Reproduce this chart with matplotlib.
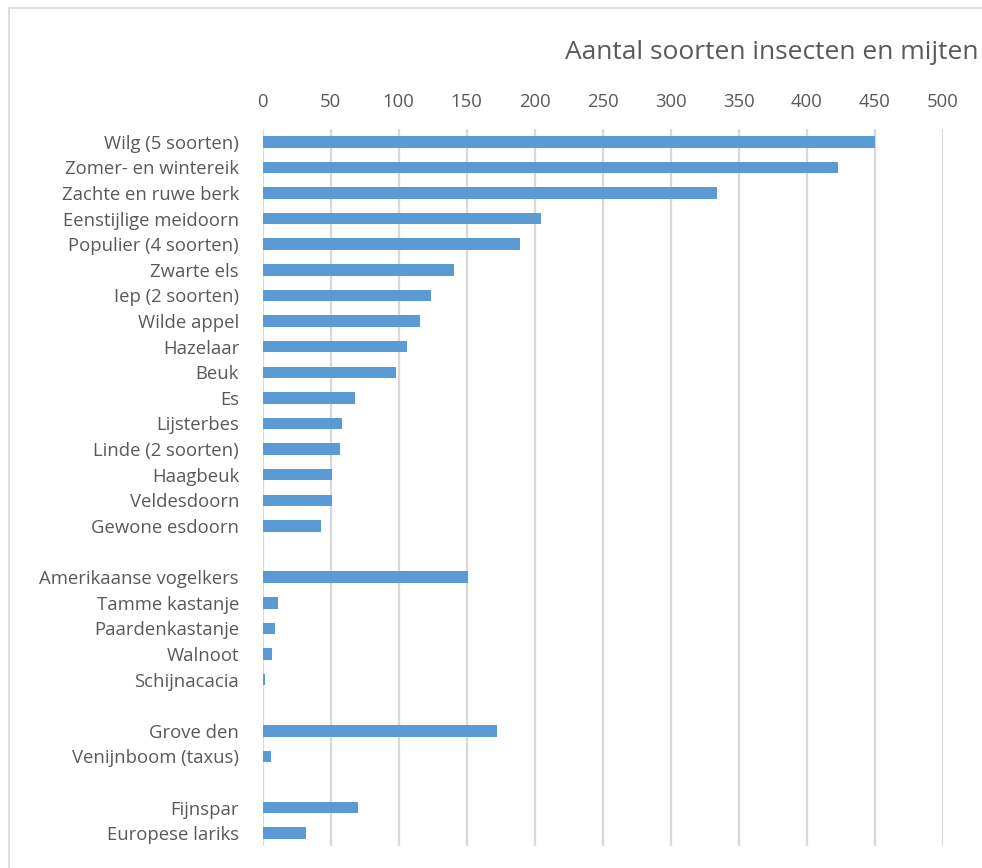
import matplotlib
matplotlib.use("Agg")
import matplotlib.pyplot as plt
from matplotlib.lines import Line2D

categories = [
    "Wilg (5 soorten)", "Zomer- en wintereik", "Zachte en ruwe berk",
    "Eenstijlige meidoorn", "Populier (4 soorten)", "Zwarte els",
    "Iep (2 soorten)", "Wilde appel", "Hazelaar", "Beuk", "Es",
    "Lijsterbes", "Linde (2 soorten)", "Haagbeuk", "Veldesdoorn",
    "Gewone esdoorn", "",
    "Amerikaanse vogelkers", "Tamme kastanje", "Paardenkastanje",
    "Walnoot", "Schijnacacia", "",
    "Grove den", "Venijnboom (taxus)", "",
    "Fijnspar", "Europese lariks",
]
values = [
    450, 423, 334, 205, 189, 141, 124, 116, 106, 98, 68, 58, 57, 51, 51, 43,
    None,
    151, 11, 9, 7, 2,
    None,
    172, 6,
    None,
    70, 32,
]
xticks = [0, 50, 100, 150, 200, 250, 300, 350, 400, 450, 500]
title = "Aantal soorten insecten en mijten"

plt.rcParams['font.family'] = ['Open Sans', 'DejaVu Sans']
text_color = "#595959"
grid_color = "#D9D9D9"
bar_color = "#5B9BD5"

fig = plt.figure(figsize=(9.82, 8.68), dpi=100)
ax = fig.add_axes([0.2675, 0.0253, 0.960 - 0.2675, 0.8514 - 0.0253])

ys = list(range(len(categories)))
for y, v in zip(ys, values):
    if v is not None:
        ax.barh(y, v, height=0.45, color=bar_color, zorder=3)

ax.set_ylim(len(categories) - 0.5, -0.5)
ax.set_xlim(0, 500)
ax.set_yticks(ys)
ax.set_yticklabels(categories, fontsize=13.3, color=text_color)
ax.set_xticks(xticks)
ax.set_xticklabels([str(t) for t in xticks], fontsize=13.3, color=text_color)
ax.xaxis.tick_top()
ax.tick_params(axis='x', length=0, pad=13)
ax.tick_params(axis='y', length=0, pad=17)
ax.grid(axis='x', color=grid_color, linewidth=1.6, zorder=0)
for s in ax.spines.values():
    s.set_visible(False)

fig.text(0.996, 0.94, title, ha='right', va='center', fontsize=19, color=text_color)

# outer chart border (left and top visible)
fig.add_artist(Line2D([0.009, 0.009], [0.0, 0.991], transform=fig.transFigure,
                      color=grid_color, linewidth=1.2))
fig.add_artist(Line2D([0.009, 1.0], [0.991, 0.991], transform=fig.transFigure,
                      color=grid_color, linewidth=1.2))

fig.savefig("out.png", dpi=100, facecolor="white")
